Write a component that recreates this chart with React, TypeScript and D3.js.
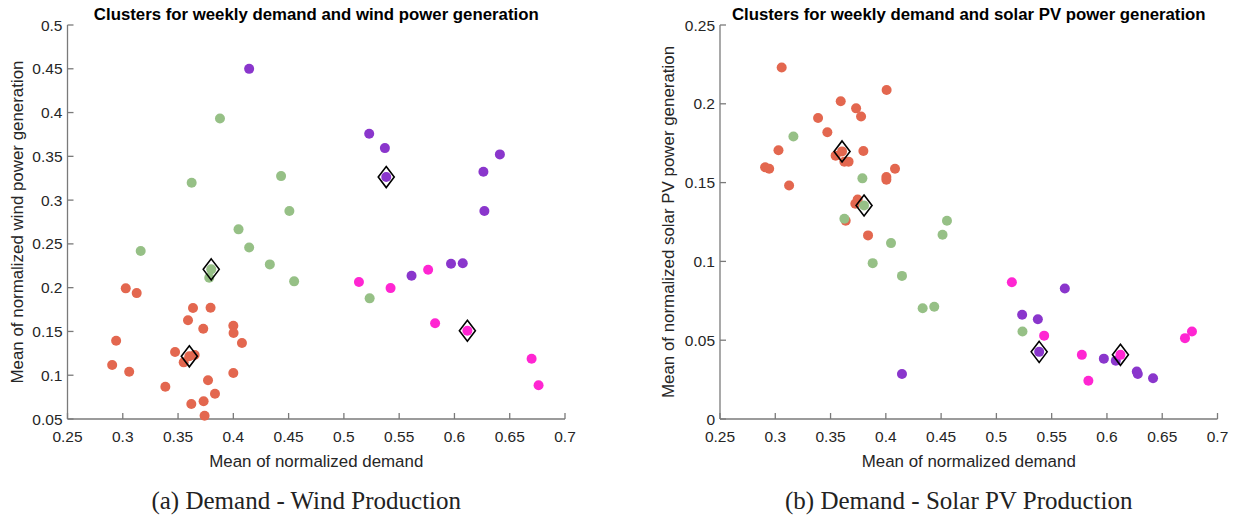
import React from 'react';
import * as d3 from 'd3';

// [demand, generation] pairs, grouped by cluster
const windRed: [number, number][] = [
  [0.3027, 0.1992], [0.3126, 0.1938], [0.3635, 0.1767], [0.3794, 0.1771],
  [0.359, 0.1627], [0.3728, 0.1531], [0.4, 0.1565], [0.4002, 0.1482],
  [0.4078, 0.1368], [0.294, 0.1394], [0.3473, 0.1265], [0.365, 0.1231],
  [0.3551, 0.1147], [0.2904, 0.1116], [0.3058, 0.104], [0.4, 0.1025],
  [0.3771, 0.0942], [0.3385, 0.0869], [0.3834, 0.0789], [0.362, 0.0671],
  [0.3731, 0.0702], [0.374, 0.0538],
];
const windGreen: [number, number][] = [
  [0.3879, 0.3933], [0.4432, 0.3274], [0.3623, 0.3198], [0.4507, 0.2875],
  [0.4047, 0.2666], [0.4143, 0.2458], [0.3162, 0.2418], [0.433, 0.2266],
  [0.3782, 0.2113], [0.455, 0.2072], [0.5233, 0.1878],
];
const windPurple: [number, number][] = [
  [0.4143, 0.4499], [0.5229, 0.3757], [0.5371, 0.3594], [0.6411, 0.3522],
  [0.6262, 0.3323], [0.6271, 0.2875], [0.5612, 0.2136], [0.5969, 0.2273],
  [0.6075, 0.2278],
];
const windMagenta: [number, number][] = [
  [0.5136, 0.2064], [0.5422, 0.1995], [0.5762, 0.2204], [0.5825, 0.1593],
  [0.6698, 0.1188], [0.6761, 0.0885],
];
const windCentroids: [number, number][] = [
  [0.3602, 0.1216], [0.38, 0.2209], [0.5383, 0.3263], [0.6117, 0.1508],
];

const solarRed: [number, number][] = [
  [0.3058, 0.223], [0.4007, 0.2088], [0.3592, 0.2016], [0.3731, 0.1971],
  [0.3776, 0.1919], [0.3387, 0.191], [0.3471, 0.1819], [0.3029, 0.1705],
  [0.3546, 0.1671], [0.3625, 0.1633], [0.3663, 0.1633], [0.3797, 0.17],
  [0.2908, 0.1597], [0.2945, 0.1588], [0.4083, 0.1588], [0.4005, 0.1535],
  [0.4005, 0.1518], [0.3125, 0.1482], [0.3745, 0.1393], [0.3724, 0.1366],
  [0.3637, 0.1258], [0.3839, 0.1165],
];
const solarGreen: [number, number][] = [
  [0.3164, 0.1792], [0.3788, 0.1527], [0.3625, 0.1271], [0.4047, 0.1116],
  [0.4513, 0.1169], [0.4553, 0.1258], [0.3881, 0.0989], [0.4146, 0.0908],
  [0.4333, 0.0703], [0.4438, 0.0712], [0.5236, 0.0555],
];
const solarPurple: [number, number][] = [
  [0.4146, 0.0286], [0.5619, 0.0828], [0.5233, 0.0661], [0.5375, 0.0633],
  [0.5972, 0.0383], [0.608, 0.037], [0.627, 0.0301], [0.6279, 0.0286],
  [0.6417, 0.0259],
];
const solarMagenta: [number, number][] = [
  [0.514, 0.0868], [0.5432, 0.0529], [0.5773, 0.0407], [0.5832, 0.0243],
  [0.6706, 0.0513], [0.6769, 0.0555],
];
const solarCentroids: [number, number][] = [
  [0.3604, 0.1698], [0.3803, 0.1355], [0.5387, 0.0426], [0.6122, 0.0407],
];

const xTicks = [0.25, 0.3, 0.35, 0.4, 0.45, 0.5, 0.55, 0.6, 0.65, 0.7];
const windTicks = [0.05, 0.1, 0.15, 0.2, 0.25, 0.3, 0.35, 0.4, 0.45, 0.5];
const solarTicks = [0, 0.05, 0.1, 0.15, 0.2, 0.25];

const colors = ['#E3674F', '#96C086', '#8A36CC', '#FF26D2'];

type PanelProps = {
  left: number;
  right: number;
  yDomain: [number, number];
  yTicks: number[];
  clusters: [number, number][][];
  centroids: [number, number][];
  title: string;
  yLabel: string;
  caption: string;
  yLabelX: number;
};

const top = 25;
const bottom = 419;
const axisColor = '#7a7a7a';
const textColor = '#262626';

const Panel: React.FC<PanelProps> = ({
  left, right, yDomain, yTicks, clusters, centroids, title, yLabel, caption, yLabelX,
}) => {
  const x = d3.scaleLinear().domain([0.25, 0.7]).range([left, right]);
  const y = d3.scaleLinear().domain(yDomain).range([bottom, top]);
  const cx = (left + right) / 2;
  const diamond = (px: number, py: number) =>
    `M${px},${py - 10.5}L${px + 8},${py}L${px},${py + 10.5}L${px - 8},${py}Z`;

  return (
    <g>
      <text x={cx} y={19.5} textAnchor="middle" fontFamily="'Liberation Sans', Arial, sans-serif"
        fontWeight="bold" fontSize={16.8} fill="#000">{title}</text>

      {/* axes */}
      <line x1={left} x2={right} y1={bottom} y2={bottom} stroke={axisColor} strokeWidth={1.3} />
      <line x1={left} x2={left} y1={top} y2={bottom} stroke={axisColor} strokeWidth={1.3} />
      {xTicks.map((t) => (
        <g key={'x' + t}>
          <line x1={x(t)} x2={x(t)} y1={bottom} y2={bottom - 6} stroke={axisColor} strokeWidth={1.3} />
          <text x={x(t)} y={442} textAnchor="middle" fontFamily="'Liberation Sans', Arial, sans-serif"
            fontSize={15.5} fill={textColor}>{String(t)}</text>
        </g>
      ))}
      {yTicks.map((t) => (
        <g key={'y' + t}>
          <line x1={left} x2={left + 6} y1={y(t)} y2={y(t)} stroke={axisColor} strokeWidth={1.3} />
          <text x={left - 5} y={y(t) + 5.5} textAnchor="end" fontFamily="'Liberation Sans', Arial, sans-serif"
            fontSize={15.5} fill={textColor}>{String(t)}</text>
        </g>
      ))}
      <text x={cx} y={467} textAnchor="middle" fontFamily="'Liberation Sans', Arial, sans-serif"
        fontSize={16.9} fill={textColor}>Mean of normalized demand</text>
      <text transform={`translate(${yLabelX},${(top + bottom) / 2}) rotate(-90)`} textAnchor="middle"
        fontFamily="'Liberation Sans', Arial, sans-serif" fontSize={16.9} fill={textColor}>{yLabel}</text>

      {/* points */}
      {clusters.map((pts, ci) =>
        pts.map((d, i) => (
          <circle key={ci + '-' + i} cx={x(d[0])} cy={y(d[1])} r={5} fill={colors[ci]} />
        ))
      )}
      {centroids.map((d, ci) => (
        <g key={'c' + ci}>
          <circle cx={x(d[0])} cy={y(d[1])} r={5} fill={colors[ci]} />
          <path d={diamond(x(d[0]), y(d[1]))} fill="none" stroke="#000" strokeWidth={1.6} />
        </g>
      ))}

      <text x={cx - 10} y={509} textAnchor="middle" fontFamily="'Liberation Serif', 'Times New Roman', serif"
        fontSize={25} fill="#222">{caption}</text>
    </g>
  );
};

export default function App() {
  return (
    <svg width={1234} height={521} style={{ position: 'absolute', left: 0, top: 0, background: '#fff' }}>
      <rect width={1234} height={521} fill="#fff" />
      <Panel
        left={67.5}
        right={565}
        yDomain={[0.05, 0.5]}
        yTicks={windTicks}
        clusters={[windRed, windGreen, windPurple, windMagenta]}
        centroids={windCentroids}
        title="Clusters for weekly demand and wind power generation"
        yLabel="Mean of normalized wind power generation"
        caption="(a) Demand - Wind Production"
        yLabelX={23}
      />
      <Panel
        left={720}
        right={1217.5}
        yDomain={[0, 0.25]}
        yTicks={solarTicks}
        clusters={[solarRed, solarGreen, solarPurple, solarMagenta]}
        centroids={solarCentroids}
        title="Clusters for weekly demand and solar PV power generation"
        yLabel="Mean of normalized solar PV power generation"
        caption="(b) Demand - Solar PV Production"
        yLabelX={674}
      />
    </svg>
  );
}
